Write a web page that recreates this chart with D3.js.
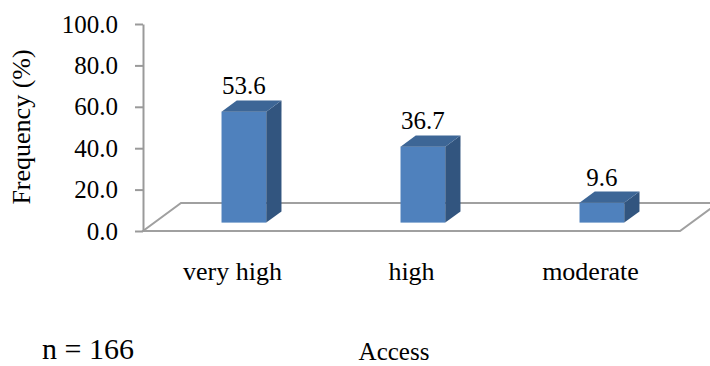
<!DOCTYPE html>
<html>
<head>
<meta charset="utf-8">
<script src="https://cdn.jsdelivr.net/npm/d3@7"></script>
<style>
  body { margin: 0; background: #fff; }
  text { font-family: "Liberation Serif", "Times New Roman", serif; fill: #000; }
  .axis path, .axis line { stroke: #9a9a9a; stroke-width: 2; }
  .axis text { font-family: "Liberation Serif", "Times New Roman", serif; fill: #000; }
</style>
</head>
<body>
<div id="chart"></div>
<script>
var categories = ["very high", "high", "moderate"];
var values = [53.6, 36.7, 9.6];
var yTicks = [0, 20, 40, 60, 80, 100];

var width = 710, height = 366;

var svg = d3.select("#chart").append("svg")
    .attr("width", width)
    .attr("height", height);

// front plane of the 3d box
var x = d3.scaleBand()
    .domain(categories)
    .range([143, 680]);

var y = d3.scaleLinear()
    .domain([0, 100])
    .range([231, 24]);

// depth vector of the floor
var depth = { dx: 38, dy: -28 };
var barFront = 0.3, barDepth = 0.4, barFrac = 0.25;

// floor outline
var y0 = y(0);
var floorPts = [
    [x.range()[0], y0],
    [x.range()[1], y0],
    [x.range()[1] + depth.dx, y0 + depth.dy],
    [x.range()[0] + depth.dx, y0 + depth.dy]
];
svg.append("path")
    .attr("d", d3.line()(floorPts) + "Z")
    .attr("fill", "none")
    .attr("stroke", "#a0a0a0")
    .attr("stroke-width", 2);

// y axis
var yAxis = d3.axisLeft(y)
    .tickValues(yTicks)
    .tickFormat(d3.format(".1f"))
    .tickSize(8)
    .tickSizeOuter(0)
    .tickPadding(17);

svg.append("g")
    .attr("class", "axis")
    .attr("transform", "translate(" + x.range()[0] + ",0)")
    .call(yAxis)
    .attr("font-family", null)
    .attr("font-size", null)
    .selectAll("text")
    .style("font-size", "25px");

// bars
var data = categories.map((c, i) => ({ key: c, value: values[i] }));
var bw = x.bandwidth() * barFrac;
var ox = depth.dx * barFront, oy = depth.dy * barFront;
var sx = depth.dx * barDepth, sy = depth.dy * barDepth;

var bars = svg.selectAll("g.bar")
    .data(data)
    .enter()
    .append("g")
    .attr("class", "bar");

function frontX(d) { return x(d.key) + x.bandwidth() / 2 - bw / 2 + ox; }
function baseY() { return y(0) + oy; }
function topY(d) { return y(d.value) + oy; }

bars.append("rect")
    .attr("x", d => frontX(d))
    .attr("y", d => topY(d))
    .attr("width", bw)
    .attr("height", d => baseY() - topY(d))
    .attr("fill", "#4f81bd");

bars.append("path")
    .attr("d", d => {
        var x1 = frontX(d) + bw;
        return d3.line()([[x1, topY(d)], [x1 + sx, topY(d) + sy], [x1 + sx, baseY() + sy], [x1, baseY()]]) + "Z";
    })
    .attr("fill", "#32557f");

bars.append("path")
    .attr("d", d => {
        var x0 = frontX(d), t = topY(d);
        return d3.line()([[x0, t], [x0 + bw, t], [x0 + bw + sx, t + sy], [x0 + sx, t + sy]]) + "Z";
    })
    .attr("fill", "#3d6696");

bars.append("text")
    .attr("x", d => frontX(d) + bw / 2)
    .attr("y", d => topY(d) + sy - 6)
    .attr("text-anchor", "middle")
    .style("font-size", "25px")
    .text(d => d.value.toFixed(1));

// category labels on the front edge
svg.selectAll("text.cat")
    .data(categories)
    .enter()
    .append("text")
    .attr("class", "cat")
    .attr("x", d => x(d) + x.bandwidth() / 2)
    .attr("y", 280)
    .attr("text-anchor", "middle")
    .style("font-size", "26px")
    .text(d => d);

// axis titles
svg.append("text")
    .attr("transform", "translate(30,127) rotate(-90)")
    .attr("text-anchor", "middle")
    .style("font-size", "26px")
    .text("Frequency (%)");

svg.append("text")
    .attr("x", 394)
    .attr("y", 360)
    .attr("text-anchor", "middle")
    .style("font-size", "25px")
    .text("Access");

svg.append("text")
    .attr("x", 42)
    .attr("y", 359)
    .style("font-size", "30px")
    .text("n = 166");
</script>
</body>
</html>
